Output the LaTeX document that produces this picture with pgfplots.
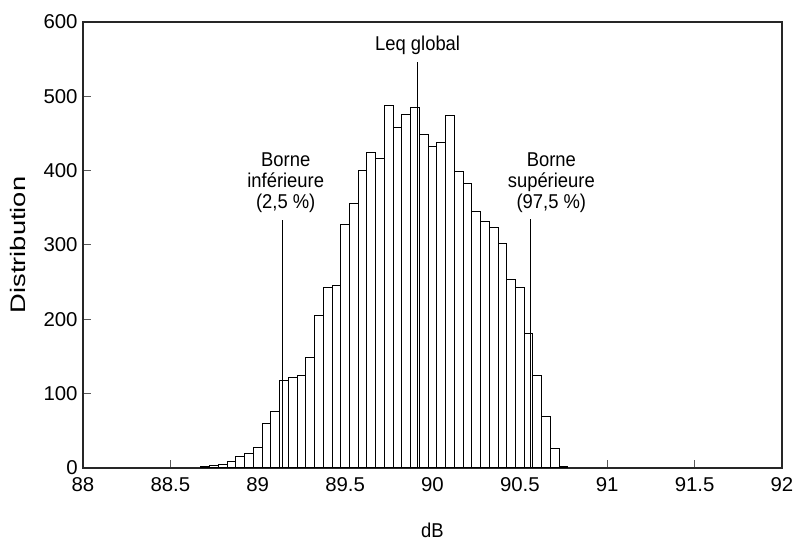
\documentclass[border=0pt]{standalone}
\usepackage{fontspec}
\setmainfont{Liberation Sans}[FakeStretch=1.02]
\newfontfamily\annfont{Liberation Sans}[FakeStretch=0.92]
\newfontfamily\ylabfont{Liberation Sans}[FakeStretch=1.3]
\usepackage{pgfplots}
\pgfplotsset{compat=1.18}
\begin{document}
\begin{tikzpicture}
\fontsize{9}{10.5}\selectfont
\begin{axis}[
  scale only axis,
  width=349.5pt, height=223pt,
  xmin=88, xmax=92, ymin=0, ymax=600,
  xtick={88,88.5,...,92},
  ytick={0,100,...,600},
  xticklabels={88,88.5,89,89.5,90,90.5,91,91.5,92},
  tick pos=left,
  tick align=inside,
  major tick length=4pt,
  tick style={gray!70!black, line width=0.5pt},
  axis line style={line width=0.8pt, gray!30!black},
  /pgf/number format/assume math mode=true,
  ticklabel style={font=\fontsize{10}{10}\selectfont},
  xlabel={dB}, ylabel={Distribution},
  xlabel style={font=\annfont\fontsize{10}{10}\selectfont, at={(axis description cs:0.5,-0.139)}, anchor=center},
  ylabel style={font=\ylabfont\fontsize{10.5}{10}\selectfont, at={(axis description cs:-0.093,0.5)}, anchor=center},
  xticklabel style={yshift=-1.5pt},
  yticklabel style={xshift=0.5pt},
]
\addplot[ybar, bar width=0.05, fill=white, draw=black, line width=0.5pt] coordinates {
(88.70,2) (88.75,3) (88.80,5) (88.85,9) (88.90,15) (88.95,19)
(89.00,28) (89.05,60) (89.10,76) (89.15,118) (89.20,122) (89.25,124)
(89.30,148) (89.35,205) (89.40,243) (89.45,246) (89.50,327) (89.55,356)
(89.60,400) (89.65,424) (89.70,417) (89.75,488) (89.80,458) (89.85,476)
(89.90,485) (89.95,449) (90.00,433) (90.05,438) (90.10,474) (90.15,399)
(90.20,383) (90.25,345) (90.30,332) (90.35,324) (90.40,302) (90.45,253)
(90.50,243) (90.55,181) (90.60,124) (90.65,69) (90.70,26) (90.75,2)
};
\addplot[black, line width=0.5pt] coordinates {(89.141,0) (89.141,333)};
\addplot[black, line width=0.5pt] coordinates {(89.916,0) (89.916,546)};
\addplot[black, line width=0.5pt] coordinates {(90.559,0) (90.559,335)};
\node[align=center, font=\annfont\fontsize{10}{10.5}\selectfont] at (axis cs:89.16,384) {Borne\\inférieure\\(2,5 \%)};
\node[align=center, font=\annfont\fontsize{10}{10.5}\selectfont] at (axis cs:90.68,384) {Borne\\supérieure\\(97,5 \%)};
\node[align=center, font=\annfont\fontsize{10}{10.5}\selectfont] at (axis cs:89.915,569) {Leq global};
\end{axis}
\pgfresetboundingbox
\useasboundingbox (-41.5pt,-36pt) rectangle (358.5pt,234pt);
\end{tikzpicture}
\end{document}
